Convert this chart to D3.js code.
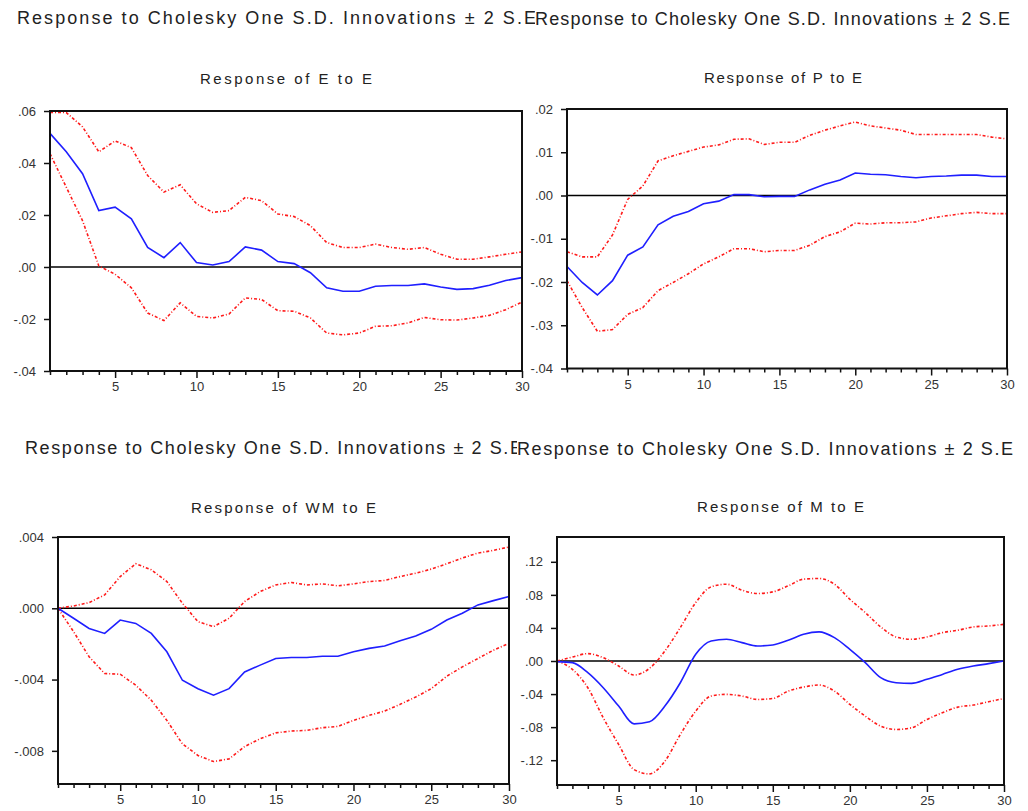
<!DOCTYPE html>
<meta charset="utf-8">
<style>
body { margin: 0; background: #fff; }
text { font-family: "Liberation Sans", Arial, sans-serif; fill: #222; }
.tick text { fill: #333; }
.tick line { stroke: #111; stroke-width: 1.5; }
.zero { stroke: #000; stroke-width: 1.4; }
.frame { fill: none; stroke: #111; stroke-width: 2; }
.resp { fill: none; stroke: #1f1fff; stroke-width: 1.6; }
.band { fill: none; stroke: #ff1a1a; stroke-width: 1.6; stroke-dasharray: 3,2,1,2; }
</style>

<svg width="1028" height="811"></svg>

<script src="https://d3js.org/d3.v7.min.js"></script>
<script>

var periods = d3.range(1, 31);
var mainTitle = "Response to Cholesky One S.D. Innovations \u00b1 2 S.E";

// Response of E to E
var eeResp  = [0.0514,0.0443,0.0359,0.0217,0.0230,0.0185,0.0075,0.0036,0.0094,0.0017,0.0008,0.0021,0.0077,0.0065,0.0021,
               0.0013,-0.0022,-0.0080,-0.0093,-0.0093,-0.0074,-0.0071,-0.0071,-0.0065,-0.0077,-0.0086,-0.0083,-0.0070,-0.0052,-0.0041];
var eeUpper = [0.0594,0.0594,0.0539,0.0443,0.0485,0.0459,0.0352,0.0288,0.0316,0.0243,0.0210,0.0217,0.0268,0.0255,0.0204,
               0.0194,0.0159,0.0094,0.0075,0.0075,0.0088,0.0075,0.0068,0.0075,0.0049,0.0030,0.0030,0.0039,0.0049,0.0058];
var eeLower = [0.0436,0.0307,0.0178,0.0004,-0.0028,-0.0080,-0.0177,-0.0206,-0.0138,-0.0190,-0.0196,-0.0181,-0.0119,-0.0125,-0.0168,
               -0.0170,-0.0196,-0.0254,-0.0261,-0.0254,-0.0228,-0.0226,-0.0215,-0.0194,-0.0203,-0.0204,-0.0196,-0.0186,-0.0164,-0.0135];
var eeTicks = [-0.04, -0.02, 0, 0.02, 0.04, 0.06];

// Response of P to E
var peResp  = [-0.0164,-0.0201,-0.0230,-0.0197,-0.0138,-0.0119,-0.0068,-0.0048,-0.0037,-0.0019,-0.0013,0.0002,0.0002,-0.0003,-0.0002,
               -0.0002,0.0013,0.0026,0.0036,0.0052,0.0049,0.0048,0.0044,0.0041,0.0044,0.0045,0.0047,0.0047,0.0044,0.0044];
var peUpper = [-0.0130,-0.0142,-0.0142,-0.0091,-0.0009,0.0022,0.0080,0.0092,0.0102,0.0112,0.0117,0.0130,0.0131,0.0118,0.0123,
               0.0123,0.0139,0.0151,0.0161,0.0170,0.0161,0.0156,0.0151,0.0141,0.0141,0.0141,0.0141,0.0141,0.0135,0.0131];
var peLower = [-0.0197,-0.0259,-0.0314,-0.0310,-0.0275,-0.0259,-0.0220,-0.0201,-0.0181,-0.0158,-0.0142,-0.0123,-0.0123,-0.0130,-0.0127,
               -0.0127,-0.0115,-0.0095,-0.0084,-0.0064,-0.0066,-0.0063,-0.0063,-0.0061,-0.0052,-0.0047,-0.0042,-0.0039,-0.0042,-0.0042];
var peTicks = [-0.04, -0.03, -0.02, -0.01, 0, 0.01, 0.02];

// Response of WM to E
var wmResp  = [0,-0.00056,-0.00113,-0.00141,-0.00066,-0.00085,-0.00141,-0.00244,-0.00404,-0.00451,-0.00488,-0.00451,-0.00357,-0.00319,-0.00282,
               -0.00276,-0.00276,-0.00269,-0.00269,-0.00244,-0.00225,-0.00212,-0.00182,-0.00156,-0.00118,-0.00066,-0.00028,0.00019,0.00043,0.00066];
var wmUpper = [0,0.00013,0.00032,0.00075,0.00178,0.00250,0.00216,0.00150,0.00028,-0.00075,-0.00103,-0.00056,0.00038,0.00094,0.00131,
               0.00145,0.00131,0.00137,0.00126,0.00137,0.00150,0.00156,0.00178,0.00197,0.00220,0.00250,0.00282,0.00310,0.00325,0.00344];
var wmLower = [0,-0.00131,-0.00272,-0.00366,-0.00370,-0.00432,-0.00516,-0.00629,-0.00761,-0.00826,-0.00860,-0.00845,-0.00776,-0.00732,-0.00699,
               -0.00689,-0.00685,-0.00670,-0.00663,-0.00629,-0.00601,-0.00577,-0.00539,-0.00498,-0.00451,-0.00381,-0.00329,-0.00282,-0.00235,-0.00197];
var wmTicks = [-0.008, -0.004, 0, 0.004];

// Response of M to E
var meResp  = [-0.0008,-0.0020,-0.0141,-0.0323,-0.0545,-0.0760,-0.0735,-0.0545,-0.0263,0.0081,0.0242,0.0263,0.0222,0.0182,0.0194,
               0.0251,0.0323,0.0352,0.0283,0.0141,-0.0020,-0.0202,-0.0263,-0.0271,-0.0222,-0.0162,-0.0101,-0.0061,-0.0032,0];
var meUpper = [0,0.0048,0.0089,0.0040,-0.0061,-0.0170,-0.0089,0.0121,0.0404,0.0707,0.0897,0.0929,0.0857,0.0816,0.0836,
               0.0909,0.0990,0.0998,0.0929,0.0747,0.0586,0.0412,0.0291,0.0263,0.0291,0.0343,0.0372,0.0412,0.0424,0.0444];
var meLower = [0,-0.0101,-0.0323,-0.0687,-0.1010,-0.1313,-0.1366,-0.1212,-0.0889,-0.0606,-0.0424,-0.0404,-0.0424,-0.0465,-0.0453,
               -0.0364,-0.0315,-0.0291,-0.0364,-0.0525,-0.0667,-0.0788,-0.0828,-0.0808,-0.0707,-0.0626,-0.0558,-0.0533,-0.0493,-0.0453];
var meTicks = [-0.12, -0.08, -0.04, 0, 0.04, 0.08, 0.12];

function fmt(digits) {
  var f = d3.format("." + digits + "f");
  return function(d) { return f(d).replace("\u2212", "-").replace("0.", "."); };
}

var panels = [
  { name: "Response of E to E", resp: eeResp, upper: eeUpper, lower: eeLower, ticks: eeTicks, fmt: fmt(2),
    domain: [-0.04, 0.06], clip: [0, 0, 535, 430], title: [17, 24, 519], sub: [200, 84, 172],
    left: 50, right: 522, top: 111, bottom: 371, curve: d3.curveLinear },
  { name: "Response of P to E", resp: peResp, upper: peUpper, lower: peLower, ticks: peTicks, fmt: fmt(2),
    domain: [-0.04, 0.02], clip: [535, 0, 493, 430], title: [535, 25, 475], sub: [704, 83, 158],
    left: 567, right: 1007, top: 109, bottom: 368.5, curve: d3.curveLinear },
  { name: "Response of WM to E", resp: wmResp, upper: wmUpper, lower: wmLower, ticks: wmTicks, fmt: fmt(3),
    domain: [-0.00986, 0.004], clip: [0, 430, 517, 381], title: [25, 454, 497], sub: [191, 513, 185],
    left: 58, right: 509, top: 537, bottom: 784, curve: d3.curveLinear },
  { name: "Response of M to E", resp: meResp, upper: meUpper, lower: meLower, ticks: meTicks, fmt: fmt(2),
    domain: [-0.15, 0.15], clip: [517, 430, 511, 381], title: [517, 455, 496], sub: [697, 512, 167],
    left: 557, right: 1004, top: 537, bottom: 785, curve: d3.curveMonotoneX }
];

var svg = d3.select("svg");
var defs = svg.append("defs");

panels.forEach(function(p, i) {
  // only the big title gets cut by the neighbouring panel
  defs.append("clipPath").attr("id", "clip" + i)
    .append("rect")
    .attr("x", p.clip[0]).attr("y", p.clip[1])
    .attr("width", p.clip[2]).attr("height", p.clip[3]);

  var g = svg.append("g");

  g.append("text")
    .attr("clip-path", "url(#clip" + i + ")")
    .attr("x", p.title[0]).attr("y", p.title[1])
    .attr("font-size", 18)
    .attr("textLength", p.title[2])
    .attr("lengthAdjust", "spacing")
    .text(mainTitle);

  g.append("text")
    .attr("x", p.sub[0]).attr("y", p.sub[1])
    .attr("font-size", 15)
    .attr("textLength", p.sub[2])
    .attr("lengthAdjust", "spacing")
    .text(p.name);

  var x = d3.scaleLinear().domain([1, 30]).range([p.left, p.right]);
  var y = d3.scaleLinear().domain(p.domain).range([p.bottom, p.top]);

  var yAxis = g.append("g")
    .attr("transform", "translate(" + p.left + ",0)")
    .call(d3.axisLeft(y).tickValues(p.ticks).tickSize(6).tickPadding(8).tickFormat(p.fmt));
  yAxis.select(".domain").remove();
  yAxis.attr("font-family", null).attr("font-size", 13);

  var xAxis = g.append("g")
    .attr("transform", "translate(0," + p.bottom + ")")
    .call(d3.axisBottom(x).tickValues(periods).tickSize(4).tickPadding(7)
      .tickFormat(function(d) { return d % 5 == 0 ? d : ""; }));
  xAxis.select(".domain").remove();
  xAxis.attr("font-family", null).attr("font-size", 13);
  xAxis.selectAll(".tick line")
    .attr("y2", function(d) { return d % 5 == 0 ? 7 : 4; });

  g.append("line").attr("class", "zero")
    .attr("x1", p.left).attr("x2", p.right)
    .attr("y1", y(0)).attr("y2", y(0));

  var line = d3.line()
    .curve(p.curve)
    .x(function(d, j) { return x(periods[j]); })
    .y(function(d) { return y(d); });

  g.append("path").attr("class", "band").attr("d", line(p.upper));
  g.append("path").attr("class", "band").attr("d", line(p.lower));
  g.append("path").attr("class", "resp").attr("d", line(p.resp));

  g.append("rect").attr("class", "frame")
    .attr("x", p.left).attr("y", p.top)
    .attr("width", p.right - p.left).attr("height", p.bottom - p.top);
});

</script>
